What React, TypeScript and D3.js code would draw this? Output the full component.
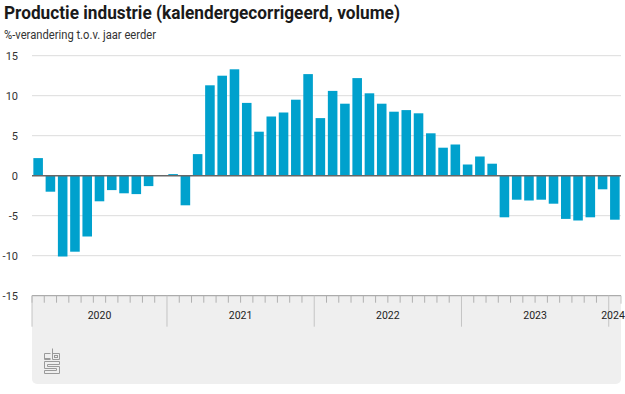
import React from "react";
import * as d3 from "d3";

// Productie industrie, %-verandering t.o.v. jaar eerder (feb 2020 - jan 2024)
const months = [
  "2020-02", "2020-03", "2020-04", "2020-05", "2020-06", "2020-07", "2020-08",
  "2020-09", "2020-10", "2020-11", "2020-12",
  "2021-01", "2021-02", "2021-03", "2021-04", "2021-05", "2021-06", "2021-07",
  "2021-08", "2021-09", "2021-10", "2021-11", "2021-12",
  "2022-01", "2022-02", "2022-03", "2022-04", "2022-05", "2022-06", "2022-07",
  "2022-08", "2022-09", "2022-10", "2022-11", "2022-12",
  "2023-01", "2023-02", "2023-03", "2023-04", "2023-05", "2023-06", "2023-07",
  "2023-08", "2023-09", "2023-10", "2023-11", "2023-12",
  "2024-01",
];

const values = [
  2.2, -2.0, -10.1, -9.5, -7.6, -3.2, -1.8, -2.2, -2.3, -1.3, 0.0,
  0.2, -3.7, 2.7, 11.3, 12.5, 13.3, 9.1, 5.5, 7.4, 7.9, 9.5, 12.7,
  7.2, 10.6, 9.0, 12.2, 10.3, 9.0, 8.0, 8.2, 7.8, 5.3, 3.5, 3.9,
  1.4, 2.4, 1.5, -5.2, -3.0, -3.1, -3.0, -3.5, -5.4, -5.6, -5.2, -1.7,
  -5.5,
];

const years = ["2020", "2021", "2022", "2023", "2024"];
const yTicks = [-15, -10, -5, 0, 5, 10, 15];

const title = "Productie industrie (kalendergecorrigeerd, volume)";
const subtitle = "%-verandering t.o.v. jaar eerder";

const W = 625;
const H = 394;

export default function App() {
  const x = d3
    .scaleBand<string>()
    .domain(months)
    .range([32, 621])
    .paddingInner(0.22)
    .paddingOuter(0.11);
  const y = d3.scaleLinear().domain([-15, 15]).range([295.7, 55.7]);

  const step = x.step();
  const left = 32;
  // start of each month slot
  const slotStart = (i: number) => left + i * step;

  // year bands from the month list
  const yearBands = years.map((yr) => {
    const idx = months
      .map((m, i) => (m.startsWith(yr) ? i : -1))
      .filter((i) => i >= 0);
    return {
      year: yr,
      x0: slotStart(idx[0]),
      x1: slotStart(idx[idx.length - 1] + 1),
    };
  });

  const axisY = y(-15);
  const font = "Roboto, 'Noto Sans', sans-serif";

  return (
    <svg
      width={W}
      height={H}
      style={{ position: "absolute", left: 0, top: 0, background: "#fff" }}
    >
      <text
        x={4}
        y={19}
        fontFamily={font}
        fontWeight={700}
        fontSize={19}
        fill="#1a1a1a"
        textLength={396}
        lengthAdjust="spacingAndGlyphs"
      >
        {title}
      </text>
      <text
        x={4}
        y={39}
        fontFamily={font}
        fontSize={12}
        fill="#333"
        textLength={152}
        lengthAdjust="spacingAndGlyphs"
      >
        {subtitle}
      </text>

      {/* gray bottom area */}
      <path
        d={`M${left},${axisY} H621 V379 a5,5 0 0 1 -5,5 H${left + 5} a5,5 0 0 1 -5,-5 Z`}
        fill="#efefef"
      />

      {/* grid */}
      {yTicks.map((t) => (
        <g key={t}>
          {t !== 0 && t !== -15 && (
            <line x1={left} x2={621} y1={y(t)} y2={y(t)} stroke="#dcdcdc" strokeWidth={1} />
          )}
          <text
            x={18}
            y={y(t) + 4}
            textAnchor="end"
            fontFamily={font}
            fontSize={11}
            fill="#333"
          >
            {t}
          </text>
        </g>
      ))}

      {/* bars */}
      {months.map((m, i) => (
        <rect
          key={m}
          x={x(m)}
          width={x.bandwidth()}
          y={y(Math.max(0, values[i]))}
          height={Math.abs(y(values[i]) - y(0))}
          fill="#00a1cd"
        />
      ))}

      {/* zero line */}
      <line x1={left} x2={621} y1={y(0)} y2={y(0)} stroke="#666" strokeWidth={1.5} />

      {/* x axis */}
      <line x1={left} x2={621} y1={axisY} y2={axisY} stroke="#999" strokeWidth={1} />
      {months.map((m, i) =>
        m.endsWith("-01") ? null : (
          <line
            key={"t" + m}
            x1={slotStart(i)}
            x2={slotStart(i)}
            y1={axisY}
            y2={axisY + 7}
            stroke="#b0b0b0"
          />
        )
      )}
      {yearBands.map((b) => (
        <g key={b.year}>
          <line x1={b.x0} x2={b.x0} y1={axisY} y2={axisY + 31} stroke="#c4c4c4" />
          <text
            x={Math.min((b.x0 + b.x1) / 2, 613)}
            y={319}
            textAnchor="middle"
            fontFamily={font}
            fontSize={10.5}
            fill="#222"
          >
            {b.year}
          </text>
        </g>
      ))}
      <line x1={621} x2={621} y1={axisY} y2={axisY + 8} stroke="#c4c4c4" />

      {/* cbs logo */}
      <g fill="none" stroke="#9a9a9a" strokeWidth={1}>
        <path d="M50.5,353.5 H44.5 V359.5 H50.5" />
        <path d="M44.5,358.5 H50.5" />
        <path d="M52.5,348.5 V359.5 H59.5 V353.5 H52.5" />
        <rect x={54.5} y={355.5} width={3} height={2} />
        <path d="M44.5,361.5 H59.5 V364.5 H47.5 V366.5 H59.5 V373.5 H44.5 V370.5 H56.5 V368.5 H44.5 Z" />
      </g>
    </svg>
  );
}
